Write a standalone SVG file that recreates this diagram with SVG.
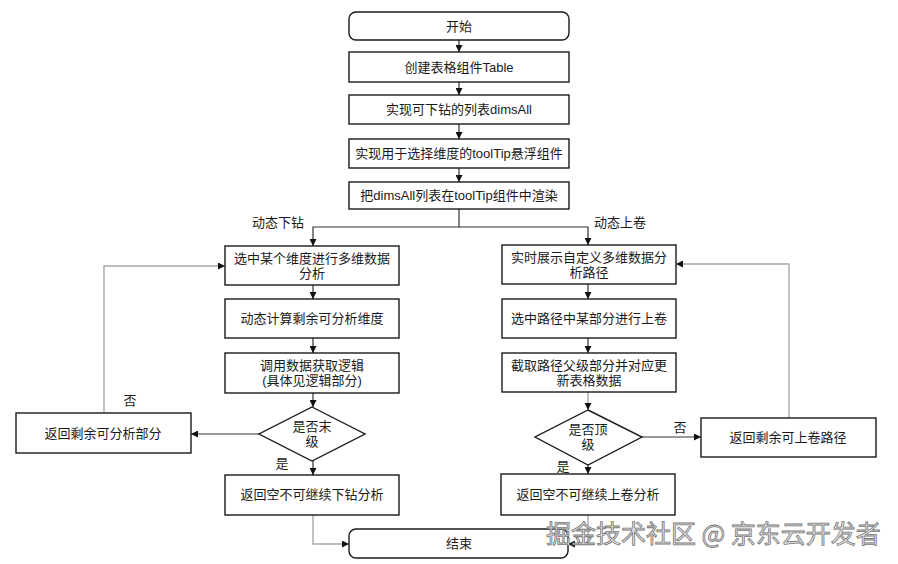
<svg xmlns="http://www.w3.org/2000/svg" width="898" height="564" viewBox="0 0 898 564">
<style>
.n{fill:#fff;stroke:#1a1a1a;stroke-width:1.4}
.t{font-family:"Liberation Sans","Noto Sans CJK SC",sans-serif;font-size:13px;fill:#1a1a1a;text-anchor:middle}
.l{fill:none;stroke:#333;stroke-width:1.2}
.g{fill:none;stroke:#a8a8a8;stroke-width:1.4}
.wm{font-family:"Noto Sans CJK SC",sans-serif;font-size:25px;fill:#e6e6e6;stroke:#777;stroke-width:0.8}
</style>
<defs>
<marker id="a" viewBox="0 0 10 10" refX="10" refY="5" markerWidth="7" markerHeight="7" markerUnits="userSpaceOnUse" orient="auto"><path d="M0,0 L10,5 L0,10 z" fill="#111"/></marker>
</defs>
<rect width="898" height="564" fill="#fff"/>
<g id="connectors">
<path class="l" d="M459,40 V52" marker-end="url(#a)"/>
<path class="l" d="M459,82 V95" marker-end="url(#a)"/>
<path class="l" d="M459,124 V139" marker-end="url(#a)"/>
<path class="l" d="M459,168 V182" marker-end="url(#a)"/>
<path class="l" d="M459,209 V227 H313 V246" marker-end="url(#a)"/>
<path class="l" d="M459,227 H588 V245" marker-end="url(#a)"/>
<path class="l" d="M313,285 V299" marker-end="url(#a)"/>
<path class="l" d="M313,338 V353" marker-end="url(#a)"/>
<path class="l" d="M313,393 V407" marker-end="url(#a)"/>
<path class="l" d="M313,461 V475" marker-end="url(#a)"/>
<path class="l" d="M259,434 H191" marker-end="url(#a)"/>
<path class="g" d="M104,413 V266 H225" marker-end="url(#a)"/>
<path class="g" d="M313,515 V544 H349" marker-end="url(#a)"/>
<path class="l" d="M588,284 V299" marker-end="url(#a)"/>
<path class="l" d="M588,338 V353" marker-end="url(#a)"/>
<path class="g" d="M588,392 V410" marker-end="url(#a)"/>
<path class="l" d="M588,465 V474" marker-end="url(#a)"/>
<path class="l" d="M642,437 H701" marker-end="url(#a)"/>
<path class="g" d="M789,418 V264 H676" marker-end="url(#a)"/>
<path class="g" d="M588,515 V544 H568" marker-end="url(#a)"/>
</g>
<g id="labels">
<text class="t" x="278" y="227">动态下钻</text>
<text class="t" x="620" y="227">动态上卷</text>
<text class="t" x="130" y="405">否</text>
<text class="t" x="282" y="468">是</text>
<text class="t" x="680" y="432">否</text>
<text class="t" x="563" y="471">是</text>
</g>
<g id="start"><rect class="n" x="349" y="12" width="220" height="28" rx="7"/><text class="t" x="459" y="31">开始</text></g>
<g id="n1"><rect class="n" x="349" y="52" width="220" height="30"/><text class="t" x="459" y="72">创建表格组件Table</text></g>
<g id="n2"><rect class="n" x="349" y="95" width="220" height="29"/><text class="t" x="459" y="114">实现可下钻的列表dimsAll</text></g>
<g id="n3"><rect class="n" x="349" y="139" width="220" height="29"/><text class="t" x="459" y="158">实现用于选择维度的toolTip悬浮组件</text></g>
<g id="n4"><rect class="n" x="349" y="182" width="220" height="27"/><text class="t" x="459" y="200">把dimsAll列表在toolTip组件中渲染</text></g>
<g id="d1"><rect class="n" x="225" y="246" width="174" height="39"/><text class="t" x="312" y="263">选中某个维度进行多维数据<tspan x="312" dy="15">分析</tspan></text></g>
<g id="d2"><rect class="n" x="225" y="299" width="174" height="39"/><text class="t" x="312" y="323">动态计算剩余可分析维度</text></g>
<g id="d3"><rect class="n" x="225" y="353" width="174" height="40"/><text class="t" x="312" y="370">调用数据获取逻辑<tspan x="312" dy="15">(具体见逻辑部分)</tspan></text></g>
<g id="d4"><polygon class="n" points="312,407 365,434 312,461 259,434"/><text class="t" x="312" y="431">是否末<tspan x="312" dy="15">级</tspan></text></g>
<g id="d5"><rect class="n" x="16" y="413" width="175" height="40"/><text class="t" x="103" y="438">返回剩余可分析部分</text></g>
<g id="d6"><rect class="n" x="225" y="475" width="174" height="40"/><text class="t" x="312" y="499">返回空不可继续下钻分析</text></g>
<g id="u1"><rect class="n" x="502" y="245" width="174" height="39"/><text class="t" x="589" y="262">实时展示自定义多维数据分<tspan x="589" dy="15">析路径</tspan></text></g>
<g id="u2"><rect class="n" x="502" y="299" width="174" height="39"/><text class="t" x="589" y="323">选中路径中某部分进行上卷</text></g>
<g id="u3"><rect class="n" x="502" y="353" width="174" height="39"/><text class="t" x="589" y="370">截取路径父级部分并对应更<tspan x="589" dy="15">新表格数据</tspan></text></g>
<g id="u4"><polygon class="n" points="588,410 642,437 588,465 535,437"/><text class="t" x="588" y="434">是否顶<tspan x="588" dy="15">级</tspan></text></g>
<g id="u5"><rect class="n" x="701" y="418" width="175" height="39"/><text class="t" x="788" y="442">返回剩余可上卷路径</text></g>
<g id="u6"><rect class="n" x="501" y="474" width="174" height="41"/><text class="t" x="588" y="499">返回空不可继续上卷分析</text></g>
<g id="end"><rect class="n" x="349" y="529" width="219" height="29" rx="7"/><text class="t" x="459" y="548">结束</text></g>
<text class="wm" x="546" y="543">掘金技术社区 @ 京东云开发者</text>
</svg>
